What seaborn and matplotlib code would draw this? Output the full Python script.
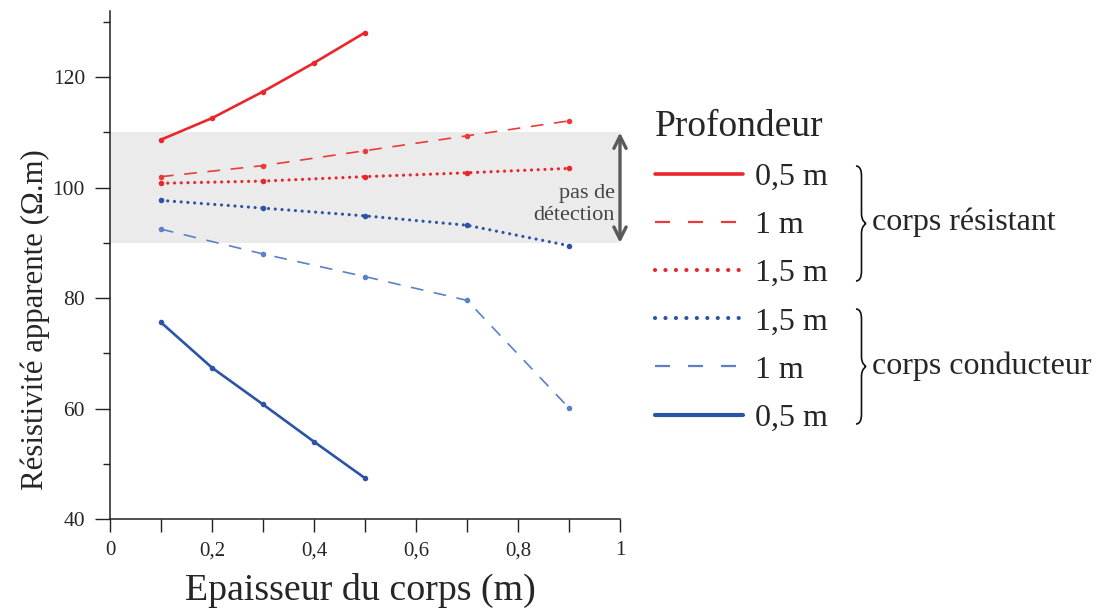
import matplotlib
matplotlib.use("Agg")
import matplotlib.pyplot as plt
import seaborn as sns
import numpy as np
from matplotlib.lines import Line2D
from matplotlib.path import Path
from matplotlib.patches import PathPatch
from matplotlib.ticker import FuncFormatter, MultipleLocator

sns.set_style("ticks")
plt.rcParams['font.family'] = ['Liberation Serif', 'DejaVu Serif']

# ---------------- data ----------------
x_short = [0.1, 0.2, 0.3, 0.4, 0.5]
x_long = [0.1, 0.3, 0.5, 0.7, 0.9]

res_05 = [108.7, 112.6, 117.4, 122.6, 128.1]
res_10 = [102.0, 104.0, 106.7, 109.4, 112.1]
res_15 = [100.8, 101.2, 102.0, 102.7, 103.5]
con_15 = [97.7, 96.3, 94.9, 93.2, 89.5]
con_10 = [92.5, 88.0, 83.9, 79.6, 60.1]
con_05 = [75.6, 67.4, 60.75, 54.0, 47.4]

legend_labels = ["0,5 m", "1 m", "1,5 m", "1,5 m", "1 m", "0,5 m"]
group_labels = ["corps résistant", "corps conducteur"]
band_low, band_high = 90, 110
band_text = "pas de\ndétection"
xlabel = "Epaisseur du corps (m)"
ylabel = "Résistivité apparente (Ω.m)"
legend_title = "Profondeur"

RED = "#e8262b"
RED_L = "#ec3a3c"
BLUE = "#2c54a5"
BLUE_L = "#5b80c6"

W, H = 1115, 612
fig = plt.figure(figsize=(W / 100, H / 100), dpi=100)
ax = fig.add_axes([110 / W, 93 / H, 510 / W, 508 / H])

solid = dict(lw=1.9, linestyle="-")
dashed = dict(lw=1.2, linestyle=(0, (7.6, 6.4)))
dotted = dict(lw=2.3, linestyle=(0, (0.01, 2.1)), dash_capstyle="round")
mk = dict(marker="o", markersize=4.0, markeredgewidth=0)

series = [
    (x_short, res_05, RED, solid),
    (x_long, res_10, RED_L, dashed),
    (x_long, res_15, RED, dotted),
    (x_long, con_15, BLUE, dotted),
    (x_long, con_10, BLUE_L, dashed),
    (x_short, con_05, BLUE, solid),
]
for xs, ys, c, st in series:
    sns.lineplot(x=xs, y=ys, ax=ax, color=c, markerfacecolor=c, **st, **mk,
                 zorder=3)

ax.axhspan(band_low, band_high, xmin=0, xmax=1, color="#ebebeb", zorder=0, lw=0)
ax.annotate("", xy=(1.0, band_low), xytext=(1.0, band_high),
            arrowprops=dict(arrowstyle="<->", color="#5a5a5a", lw=2.4,
                            mutation_scale=22, shrinkA=0, shrinkB=0),
            annotation_clip=False, zorder=4)
ax.text(0.99, 97, band_text, ha="right", va="center", multialignment="right",
        color="#444444", fontsize=16, linespacing=1.2, zorder=5)

ax.set_xlim(0, 1)
ax.set_ylim(40, 132)
ax.xaxis.set_major_locator(MultipleLocator(0.2))
ax.xaxis.set_minor_locator(MultipleLocator(0.1))
ax.yaxis.set_major_locator(MultipleLocator(20))
ax.yaxis.set_minor_locator(MultipleLocator(10))


def fmt(v, pos):
    s = ("%.1f" % v).rstrip("0").rstrip(".")
    return s.replace(".", ",")


ax.xaxis.set_major_formatter(FuncFormatter(fmt))
ax.tick_params(axis="x", which="both", direction="out", length=9, width=1,
               labelsize=15, pad=7, color="#222222")
ax.tick_params(axis="y", which="major", direction="out", length=11, width=1,
               labelsize=15.5, pad=7, color="#222222")
ax.tick_params(axis="y", which="minor", direction="out", length=5, width=1,
               color="#222222")
for s in ["top", "right"]:
    ax.spines[s].set_visible(False)
for s in ["left", "bottom"]:
    ax.spines[s].set_color("#222222")
    ax.spines[s].set_linewidth(1.1)
ax.set_xlabel("")
ax.set_ylabel("")

fig.text(35 / W, 1 - 320 / H, ylabel, rotation=90, ha="center", va="center",
         fontsize=22.2)
fig.text(360 / W, 1 - 590 / H, xlabel, ha="center", va="center", fontsize=27.3)

# legend
handles = []
for xs, ys, c, st in series:
    kw = {k: v for k, v in st.items()}
    handles.append(Line2D([], [], color=c, **kw))
handles[0].set_linewidth(2.6)
handles[5].set_linewidth(3.0)
handles[1].set_linewidth(1.6)
handles[4].set_linewidth(1.6)
handles[1].set_linestyle((0, (6.75, 8.1)))
handles[4].set_linestyle((0, (6.75, 8.1)))
handles[2].set_linewidth(3.0)
handles[3].set_linewidth(3.0)
handles[2].set_linestyle((0, (0.01, 2.5)))
handles[3].set_linestyle((0, (0.01, 2.5)))
leg = fig.legend(handles, legend_labels, title=legend_title, loc="upper left",
                 bbox_to_anchor=(655 / W, 1 - 109 / H), frameon=False,
                 fontsize=23, title_fontsize=27, handlelength=2.75,
                 handletextpad=0.37, labelspacing=0.59, borderpad=0,
                 borderaxespad=0, alignment="left")


def brace(x0, ytop, ybot, w=10):
    # pixel coords measured from top-left of image
    ymid = (ytop + ybot) / 2
    r = 10
    xm = x0 + w * 0.55
    pts = [(x0, ytop), (xm, ytop), (xm, ytop + r),
           (xm, ymid - r),
           (xm, ymid - 2), (x0 + w, ymid), (x0 + w, ymid),
           (x0 + w, ymid), (xm, ymid + 2), (xm, ymid + r),
           (xm, ybot - r),
           (xm, ybot), (x0, ybot), (x0, ybot)]
    codes = [Path.MOVETO, Path.CURVE3, Path.CURVE3,
             Path.LINETO,
             Path.CURVE4, Path.CURVE4, Path.CURVE4,
             Path.CURVE4, Path.CURVE4, Path.CURVE4,
             Path.LINETO,
             Path.CURVE3, Path.CURVE3, Path.LINETO]
    pts = [(px / W, 1 - py / H) for px, py in pts]
    p = PathPatch(Path(pts, codes), fill=False, lw=1.2, color="#111111",
                  transform=fig.transFigure)
    fig.patches.append(p)


brace(856, 166, 281)
brace(856, 309, 424)
fig.text(872 / W, 1 - 222 / H, group_labels[0], ha="left", va="center",
         fontsize=23)
fig.text(872 / W, 1 - 366 / H, group_labels[1], ha="left", va="center",
         fontsize=23)

fig.savefig("out.png", dpi=100)
